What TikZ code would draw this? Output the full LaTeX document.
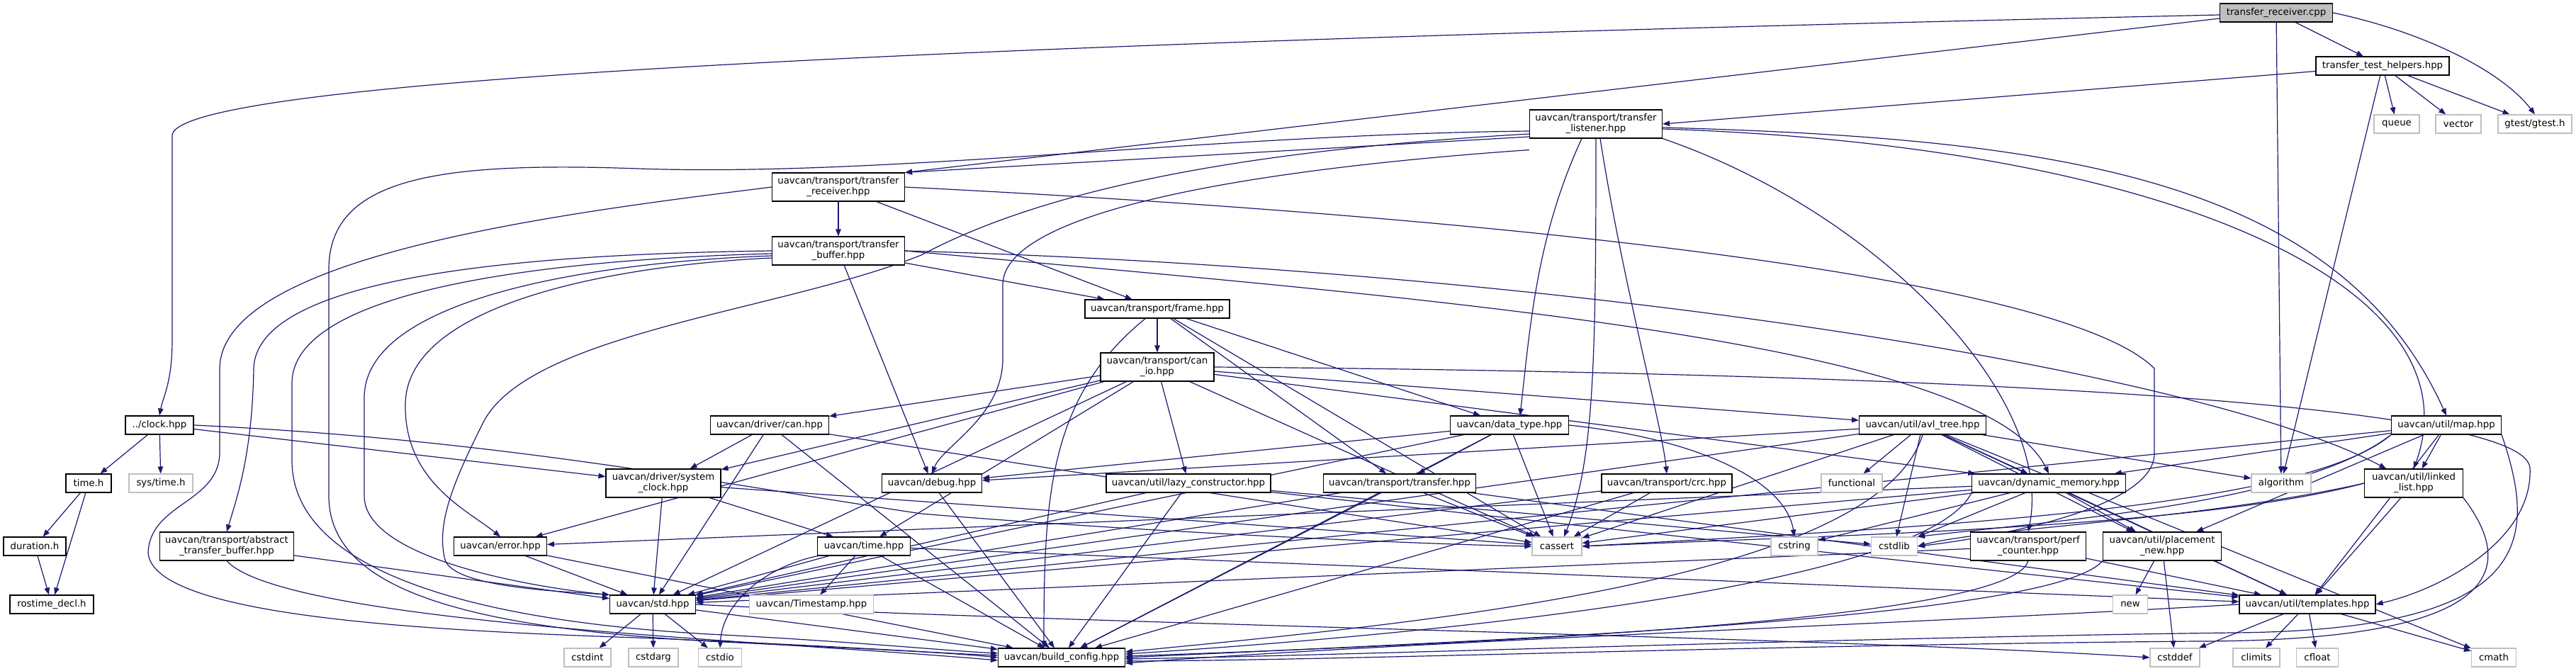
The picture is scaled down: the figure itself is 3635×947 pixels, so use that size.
\documentclass[tikz,border=0pt]{standalone}
\usepackage{fontspec}
\newfontfamily\dv{DejaVu Sans}
\usetikzlibrary{arrows.meta}
\pgfdeclarelayer{edges}
\pgfsetlayers{edges,main}
\definecolor{edgeblue}{HTML}{191970}
\definecolor{leafgray}{HTML}{BFBFBF}
\definecolor{rootfill}{HTML}{BFBFBF}
\begin{document}
\begin{tikzpicture}[x=1pt,y=1pt,
  nd/.style={draw=black, line width=1.1pt, fill=white, inner sep=0pt, minimum height=26pt, align=center, font=\dv\fontsize{13.3}{15}\selectfont},
  nd2/.style={nd, minimum height=40pt},
  lf/.style={nd, draw=leafgray},
  e/.style={draw=edgeblue, line width=1.2pt, -{Triangle[length=10pt,width=7.5pt]}}]
\useasboundingbox (0,0) rectangle (3635,-947);
% ---------- nodes ----------
\node[nd,fill=rootfill,minimum width=159pt] (cpp) at (3212,-18) {transfer\_receiver.cpp};
\node[nd,minimum width=188pt] (helpers) at (3362,-93) {transfer\_test\_helpers.hpp};
\node[lf,minimum width=64pt] (queue) at (3382,-175) {queue};
\node[lf,minimum width=64pt] (vector) at (3469,-175) {vector};
\node[lf,minimum width=104pt] (gtest) at (3577,-175) {gtest/gtest.h};
\node[nd2,minimum width=187pt] (listener) at (2252,-175) {uavcan/transport/transfer\\\_listener.hpp};
\node[nd2,minimum width=187pt] (receiver) at (1183,-264) {uavcan/transport/transfer\\\_receiver.hpp};
\node[nd2,minimum width=187pt] (tbuf) at (1183,-354) {uavcan/transport/transfer\\\_buffer.hpp};
\node[nd,minimum width=204pt] (frame) at (1633,-436) {uavcan/transport/frame.hpp};
\node[nd2,minimum width=160pt] (canio) at (1633,-518) {uavcan/transport/can\\\_io.hpp};
\node[nd,minimum width=96pt] (clock) at (225,-600) {../clock.hpp};
\node[nd,minimum width=167pt] (dcan) at (1086,-600) {uavcan/driver/can.hpp};
\node[nd,minimum width=167pt] (dtype) at (2130,-600) {uavcan/data\_type.hpp};
\node[nd,minimum width=179pt] (avl) at (2713,-600) {uavcan/util/avl\_tree.hpp};
\node[nd,minimum width=155pt] (map) at (3452,-600) {uavcan/util/map.hpp};
\node[nd,minimum width=64pt] (timeh) at (125,-682) {time.h};
\node[lf,minimum width=90pt] (systime) at (227,-682) {sys/time.h};
\node[nd2,minimum width=162pt] (sysclock) at (936,-682) {uavcan/driver/system\\\_clock.hpp};
\node[nd,minimum width=141pt] (debug) at (1315,-682) {uavcan/debug.hpp};
\node[nd,minimum width=232pt] (lazy) at (1677,-682) {uavcan/util/lazy\_constructor.hpp};
\node[nd,minimum width=215pt] (transfer) at (1975,-682) {uavcan/transport/transfer.hpp};
\node[nd,minimum width=184pt] (crc) at (2352,-682) {uavcan/transport/crc.hpp};
\node[lf,minimum width=86pt] (functional) at (2613,-682) {functional};
\node[nd,minimum width=217pt] (dynmem) at (2891,-682) {uavcan/dynamic\_memory.hpp};
\node[lf,minimum width=84pt] (algorithm) at (3219,-682) {algorithm};
\node[nd2,minimum width=139pt] (llist) at (3406,-682) {uavcan/util/linked\\\_list.hpp};
\node[nd,minimum width=88pt] (duration) at (49,-771) {duration.h};
\node[nd2,minimum width=189pt] (abstract) at (320,-771) {uavcan/transport/abstract\\\_transfer\_buffer.hpp};
\node[nd,minimum width=131pt] (error) at (706,-771) {uavcan/error.hpp};
\node[nd,minimum width=131pt] (timehpp) at (1219,-771) {uavcan/time.hpp};
\node[lf,minimum width=70pt] (cassert) at (2197,-771) {cassert};
\node[lf,minimum width=66pt] (cstring) at (2532,-771) {cstring};
\node[lf,minimum width=65pt] (cstdlib) at (2673,-771) {cstdlib};
\node[nd2,minimum width=163pt] (perf) at (2862,-771) {uavcan/transport/perf\\\_counter.hpp};
\node[nd2,minimum width=167pt] (pnew) at (3051,-771) {uavcan/util/placement\\\_new.hpp};
\node[nd,minimum width=118pt] (rostime) at (73,-853) {rostime\_decl.h};
\node[nd,minimum width=121pt] (std) at (921,-853) {uavcan/std.hpp};
\node[lf,minimum width=175pt] (timestamp) at (1145,-853) {uavcan/Timestamp.hpp};
\node[lf,minimum width=49pt] (new) at (3006,-853) {new};
\node[nd,minimum width=192pt] (templates) at (3256,-853) {uavcan/util/templates.hpp};
\node[lf,minimum width=66pt] (cstdint) at (829,-928) {cstdint};
\node[lf,minimum width=70pt] (cstdarg) at (922,-928) {cstdarg};
\node[lf,minimum width=61pt] (cstdio) at (1016,-928) {cstdio};
\node[nd,minimum width=179pt] (build) at (1498,-928) {uavcan/build\_config.hpp};
\node[lf,minimum width=70pt] (cstddef) at (3069,-928) {cstddef};
\node[lf,minimum width=66pt] (climits) at (3184,-928) {climits};
\node[lf,minimum width=59pt] (cfloat) at (3270,-928) {cfloat};
\node[lf,minimum width=63pt] (cmath) at (3519,-928) {cmath};
% ---------- edges ----------
\begin{pgfonlayer}{edges}
% transfer_receiver.cpp
\draw[e] ([yshift=-3pt]cpp.west) .. controls (1400,-60) and (260,-110) .. (243,-190) -- (243,-480) .. controls (243,-540) and (230,-560) .. (clock.north);
\draw[e] ([yshift=-8pt]cpp.west) -- (receiver.north east);
\draw[e] (cpp) -- (helpers);
\draw[e] (cpp) -- (algorithm);
\draw[e] (cpp.east) .. controls (3420,-45) and (3530,-100) .. (gtest.north);
% helpers
\draw[e] (helpers) -- (queue);
\draw[e] (helpers) -- (vector);
\draw[e] (helpers) -- (gtest);
\draw[e] (helpers) -- (algorithm);
\draw[e] (helpers) -- (listener.east);
% listener
\draw[e] ([yshift=-18pt]listener.west) -- (receiver.north east);
\draw[e] ([yshift=-10pt]listener.west) .. controls (1700,-190) and (1250,-250) .. (900,-238) .. controls (620,-228) and (464,-250) .. (464,-380) -- (464,-700) .. controls (464,-830) and (650,-885) .. (1000,-905) .. controls (1200,-915) and (1330,-920) .. (build.west);
\draw[e] ([yshift=-14pt]listener.west) .. controls (1700,-215) and (1450,-280) .. (1300,-360) .. controls (1100,-440) and (740,-470) .. (680,-600) .. controls (640,-680) and (615,-740) .. (628,-790) .. controls (640,-830) and (800,-835) .. (std.north west);
\draw[e] ([yshift=-16pt]listener.south west) .. controls (1750,-240) and (1420,-300) .. (1415,-400) -- (1415,-510) .. controls (1412,-590) and (1330,-630) .. (debug.north);
\draw[e] ([xshift=-20pt]listener.south) .. controls (2170,-330) and (2160,-450) .. ([xshift=15pt]dtype.north);
\draw[e] (listener.south) .. controls (2252,-500) and (2250,-650) .. ([xshift=10pt]cassert.north);
\draw[e] ([xshift=6pt]listener.south) .. controls (2290,-400) and (2345,-600) .. (crc.north);
\draw[e] ([yshift=-5pt]listener.east) .. controls (2900,-195) and (3300,-250) .. (map.north);
\draw[e] ([yshift=-7pt]listener.east) .. controls (3050,-205) and (3500,-400) .. (llist.north);
\draw[e] (listener.south east) .. controls (2650,-300) and (2900,-560) .. (perf.north);
% receiver
\draw[e] (receiver) -- (tbuf);
\draw[e] (receiver) -- (frame);
\draw[e] (receiver.west) .. controls (800,-300) and (312,-360) .. (310,-520) -- (310,-640) .. controls (308,-710) and (212,-710) .. (209,-780) .. controls (215,-870) and (600,-890) .. (900,-900) .. controls (1150,-910) and (1330,-922) .. ([yshift=3pt]build.west);
\draw[e] (receiver.east) .. controls (2000,-300) and (2900,-380) .. (3040,-520) -- (3040,-640) .. controls (3040,-720) and (2800,-760) .. (cstdlib.east);
% transfer_buffer
\draw[e] (tbuf.west) .. controls (800,-358) and (362,-380) .. (358,-520) .. controls (356,-640) and (335,-700) .. (abstract.north);
\draw[e] ([yshift=-4pt]tbuf.west) .. controls (820,-365) and (414,-400) .. (412,-540) -- (412,-650) .. controls (412,-800) and (650,-875) .. (1000,-895) .. controls (1200,-905) and (1330,-918) .. ([yshift=6pt]build.west);
\draw[e] ([yshift=-7pt]tbuf.west) .. controls (840,-370) and (516,-420) .. (514,-560) -- (514,-700) .. controls (514,-790) and (760,-830) .. (std.north west);
\draw[e] ([yshift=-10pt]tbuf.west) .. controls (860,-375) and (574,-430) .. (572,-570) .. controls (570,-680) and (660,-720) .. (error.north);
\draw[e] (tbuf) -- (debug);
\draw[e] (tbuf) -- (frame);
\draw[e] (tbuf.east) .. controls (2200,-380) and (3100,-520) .. (llist);
\draw[e] (tbuf.east) .. controls (2000,-420) and (2800,-480) .. (dynmem.north);
% frame
\draw[e] (frame) -- (canio);
\draw[e] (frame) -- (dtype);
\draw[e] (frame) -- (transfer);
\draw[e] (frame) -- (cassert);
\draw[e] (frame) .. controls (1480,-560) and (1473,-700) .. ([xshift=-25pt]build.north);
% can_io
\draw[e] (canio) -- (dcan);
\draw[e] (canio) -- (avl);
\draw[e] (canio) -- (timehpp);
\draw[e] (canio) -- (lazy);
\draw[e] (canio) -- (sysclock);
\draw[e] (canio) -- (std);
\draw[e] (canio) -- (error);
\draw[e] (canio) -- (cassert);
\draw[e] (canio) -- (dynmem);
\draw[e] (canio.east) .. controls (2600,-525) and (3560,-560) .. (3570,-660) .. controls (3575,-760) and (3450,-830) .. (templates.east);
% clock
\draw[e] (clock) -- (timeh);
\draw[e] (clock) -- (systime);
\draw[e] (clock) -- (sysclock);
\draw[e] (clock.east) .. controls (700,-620) and (1000,-680) .. (1300,-725) .. controls (1600,-750) and (2000,-768) .. (cassert.west);
% driver/can
\draw[e] (dcan) -- (sysclock);
\draw[e] (dcan) -- (std);
\draw[e] (dcan) -- (build);
\draw[e] (dcan) -- (cassert);
% data_type
\draw[e] (dtype) -- (transfer);
\draw[e] (dtype) -- (cassert);
\draw[e] (dtype.east) .. controls (2400,-620) and (2520,-680) .. (cstring.north);
\draw[e] (dtype) -- (build);
\draw[e] (dtype) -- (std);
\draw[e] (dtype) -- (debug);
% avl_tree
\draw[e] (avl) -- (functional);
\draw[e] (avl) -- (algorithm);
\draw[e] (avl) -- (dynmem);
\draw[e] (avl) -- (std);
\draw[e] (avl) -- (debug);
\draw[e] (avl.south) .. controls (2650,-820) and (2000,-880) .. ([yshift=8pt]build.east);
\draw[e] (avl) -- (templates);
\draw[e] (avl) -- (pnew);
\draw[e] (avl) -- (cassert);
\draw[e] (avl) -- (cstdlib);
\draw[e] (avl) -- (cmath);
% map
\draw[e] (map) -- (dynmem);
\draw[e] (map) -- (llist);
\draw[e] (map) -- (templates);
\draw[e] (map.south west) .. controls (3250,-720) and (2700,-745) .. (cassert.east);
\draw[e] (map.south west) .. controls (3250,-710) and (2900,-735) .. (cstdlib.north east);
\draw[e] (map.south east) .. controls (3580,-760) and (3580,-890) .. (3150,-893) .. controls (2600,-900) and (1900,-925) .. ([yshift=-2pt]build.east);
\draw[e] (map) -- (std);
\draw[e] (map) -- (pnew);
% time.h chain
\draw[e] (timeh) -- (duration);
\draw[e] (timeh) -- (rostime);
\draw[e] (duration) -- (rostime);
% system_clock
\draw[e] (sysclock) -- (std);
\draw[e] (sysclock) -- (timehpp);
\draw[e] (sysclock) -- (cassert);
% debug, lazy, transfer, crc
\draw[e] (debug) -- (build);
\draw[e] (lazy) -- (std);
\draw[e] (lazy) -- (build);
\draw[e] (lazy) -- (cstdlib);
\draw[e] (lazy) -- (templates);
\draw[e] (transfer) -- (cassert);
\draw[e] (transfer) -- (build);
\draw[e] (transfer) -- (std);
\draw[e] (transfer) -- (templates);
\draw[e] (crc) -- (cassert);
\draw[e] (crc) -- (build);
\draw[e] (crc) -- (std);
% dynamic_memory
\draw[e] (dynmem) -- (cassert);
\draw[e] (dynmem) -- (cstdlib);
\draw[e] (dynmem) -- (cstring);
\draw[e] (dynmem) -- (std);
\draw[e] (dynmem) -- (error);
\draw[e] (dynmem.south west) .. controls (2720,-820) and (2100,-890) .. ([yshift=5pt]build.east);
\draw[e] (dynmem) -- (templates);
\draw[e] (dynmem) -- (pnew);
% linked_list
\draw[e] (llist) -- (templates);
\draw[e] (llist.south east) .. controls (3550,-800) and (3540,-905) .. (3100,-905) .. controls (2500,-910) and (1900,-932) .. ([yshift=-5pt]build.east);
\draw[e] (llist.west) .. controls (3100,-745) and (2600,-755) .. (cassert.east);
\draw[e] (llist.west) .. controls (3100,-735) and (2800,-745) .. (cstdlib.east);
% abstract, error, time.hpp
\draw[e] (abstract) -- (std);
\draw[e] (abstract.south) .. controls (400,-880) and (1100,-905) .. ([yshift=-4pt]build.west);
\draw[e] (error) -- (std);
\draw[e] (error) -- (build);
\draw[e] (timehpp) -- (std);
\draw[e] (timehpp) -- (timestamp);
\draw[e] (timehpp) -- (build);
\draw[e] (timehpp) .. controls (1080,-800) and (1020,-850) .. (cstdio.north);
\draw[e] (timehpp) -- (templates);
% perf, placement_new
\draw[e] (perf.south) .. controls (2840,-870) and (2200,-905) .. ([yshift=2pt]build.east);
\draw[e] (perf) -- (std);
\draw[e] (perf) -- (templates);
\draw[e] (pnew) -- (new);
\draw[e] (pnew) -- (cstddef);
\draw[e] (pnew.south west) .. controls (2900,-870) and (2200,-900) .. (build.east);
% std, templates
\draw[e] (std) -- (cstdint);
\draw[e] (std) -- (cstdarg);
\draw[e] (std) -- (cstdio);
\draw[e] (std) -- (build);
\draw[e] (std.east) .. controls (1500,-880) and (2600,-900) .. (cstddef.west);
\draw[e] (templates) -- (cstddef);
\draw[e] (templates) -- (climits);
\draw[e] (templates) -- (cfloat);
\draw[e] (templates) -- (cmath);
\draw[e] (templates.west) .. controls (2700,-880) and (2000,-905) .. ([yshift=-8pt]build.east);
\end{pgfonlayer}
\end{tikzpicture}
\end{document}
